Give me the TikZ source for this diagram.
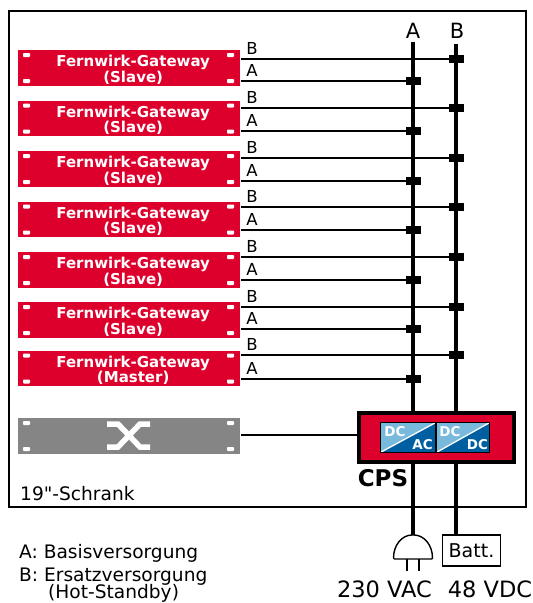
\documentclass[tikz,border=0pt]{standalone}
\usepackage{fontspec}
\setmainfont{DejaVu Sans}
\newfontfamily\plainf{DejaVu Sans}
\definecolor{gwred}{RGB}{222,0,44}
\definecolor{swgray}{RGB}{133,133,133}
\definecolor{dclight}{RGB}{120,185,220}
\definecolor{dcdark}{RGB}{0,95,160}
\tikzset{
 rack/.style={minimum width=222pt,minimum height=35.5pt,inner sep=0pt,anchor=north west},
 gwbox/.style={rack,fill=gwred},
 swbox/.style={rack,fill=swgray},
 gwtext/.style={inner sep=0pt,text=white,align=center,font=\fontsize{15}{15.5}\selectfont\bfseries,xshift=4pt,yshift=-2pt},
 wire/.style={line width=2.4pt,black},
 bus/.style={line width=4.6pt,black},
 lab/.style={font=\fontsize{16.5}{16.5}\selectfont,inner sep=0pt},
 big/.style={font=\fontsize{22.5}{23}\selectfont,inner sep=0pt,anchor=base},
 txt/.style={font=\fontsize{18.6}{19}\selectfont,inner sep=0pt,anchor=base west},
 tap/.style={fill=black,minimum width=15pt,minimum height=8pt,inner sep=0pt},
 conv/.style={minimum height=29pt,inner sep=0pt},
 convt/.style={text=white,font=\fontsize{13.5}{14}\selectfont\bfseries,inner sep=0pt},
 pinmark/.style={fill=white,rounded corners=0.8pt}
}
\newcommand{\pins}{%
 \fill[pinmark] (5,3) rectangle +(7,4);
 \fill[pinmark] (5,29) rectangle +(7,4);
 \fill[pinmark] (209,3) rectangle +(7,4);
 \fill[pinmark] (209,29) rectangle +(7,4);}
\begin{document}
\begin{tikzpicture}[x=1pt,y=-1pt]
\useasboundingbox (0,0) rectangle (533,603);
\draw[line width=1.5pt] (9,11) rectangle (526,507);
% buses
\coordinate (atop) at (413,42); \coordinate (btop) at (456,44);
\node[lab,font=\fontsize{21}{21}\selectfont] (la) at (413,31) {A};
\node[lab,font=\fontsize{21}{21}\selectfont] (lb) at (457,31) {B};
% CPS
\node[draw=black,line width=4pt,fill=gwred,minimum width=155pt,minimum height=49pt,inner sep=0pt] (cps) at (436.5,437.5) {};
\coordinate (abot) at (413,536); \coordinate (bbot) at (456,536);
\draw[bus] (atop) -- (atop |- cps.north);
\draw[bus] (btop) -- (btop |- cps.north);
\draw[bus] (abot |- cps.south) -- (abot);
\draw[bus] (bbot |- cps.south) -- (bbot);
% gateways
\foreach \n/\t/\role/\yb/\ya in {1/50/Slave/59/81,2/100.5/Slave/108/131,3/151/Slave/158/181,4/201.5/Slave/207/230,5/252/Slave/257/280,6/302/Slave/307/329,7/350.5/Master/355/379}{
  \node[gwbox] (g\n) at (18,\t) {};
  \node[gwtext] (gt\n) at (g\n.center) {Fernwirk-Gateway\\(\role)};
  \begin{scope}[shift={(18,\t)}]\pins\end{scope}
  \node[tap] (tb\n) at (456.5,\yb) {};
  \node[tap] (ta\n) at (413.5,\ya) {};
  \coordinate (sb\n) at (241,\yb); \coordinate (sa\n) at (241,\ya);
  \draw[wire] (sb\n) -- (tb\n);
  \draw[wire] (sa\n) -- (ta\n);
  \node[lab,anchor=center] (nb\n) at (252,\yb-11) {B};
  \node[lab,anchor=center] (na\n) at (252,\ya-11) {A};
}
% switch
\node[swbox] (sw) at (18,418) {};
\begin{scope}[shift={(18,418)}]\pins\end{scope}
\draw[white,line width=5.5pt] (107,424) -- (118,424) -- (140,447) -- (150,447);
\draw[white,line width=5.5pt] (107,447) -- (118,447) -- (140,424) -- (150,424);
\coordinate (swout) at (241,435);
\draw[line width=1.6pt] (swout) -- (cps.west |- swout);
% converters
\node[conv,fill=dcdark,minimum width=54pt] (c1) at (408,437.5) {};
\node[conv,fill=dcdark,minimum width=52pt] (c2) at (463,437.5) {};
\fill[dclight] (c1.north west) -- (c1.north east) -- (c1.south west) -- cycle;
\fill[dclight] (c2.north west) -- (c2.north east) -- (c2.south west) -- cycle;
\draw[white,line width=1.3pt] (c1.south west) -- (c1.north east);
\draw[white,line width=1.3pt] (c2.south west) -- (c2.north east);
\draw[black,line width=1pt] (c1.north west) rectangle (c1.south east);
\draw[black,line width=1pt] (c2.north west) rectangle (c2.south east);
\node[convt] (t1) at (395,431.5) {DC};
\node[convt] (t2) at (422.5,445) {AC};
\node[convt] (t3) at (450,431.5) {DC};
\node[convt] (t4) at (477.5,445) {DC};
\node[font=\fontsize{23}{23}\selectfont\bfseries,inner sep=0pt] (cpsl) at (383,478) {CPS};
% plug, battery
\draw[line width=1.4pt,fill=white,rounded corners=1pt] (393.5,559) .. controls (393.5,545) and (402,535) .. (413,535) .. controls (424,535) and (432.5,545) .. (432.5,559) -- cycle;
\draw[line width=2pt] (406.5,559) -- (406.5,571);
\draw[line width=2pt] (419,559) -- (419,571);
\node[draw=black,line width=1.2pt,minimum width=58pt,minimum height=31pt,inner sep=0pt,font=\fontsize{19}{19}\selectfont] (batt) at (471.5,550.5) {Batt.};
\node[big] (vac) at (384.5,597.5) {230 VAC};
\node[big] (vdc) at (490,597.5) {48 VDC};
\node[txt] (sch) at (20,500.5) {{\plainf 19"}-Schrank};
\node[txt] (k1) at (19,558) {A: Basisversorgung};
\node[txt] (k2) at (19,581) {B: Ersatzversorgung};
\node[txt] (k3) at (48,598) {(Hot-Standby)};
\end{tikzpicture}
\end{document}
